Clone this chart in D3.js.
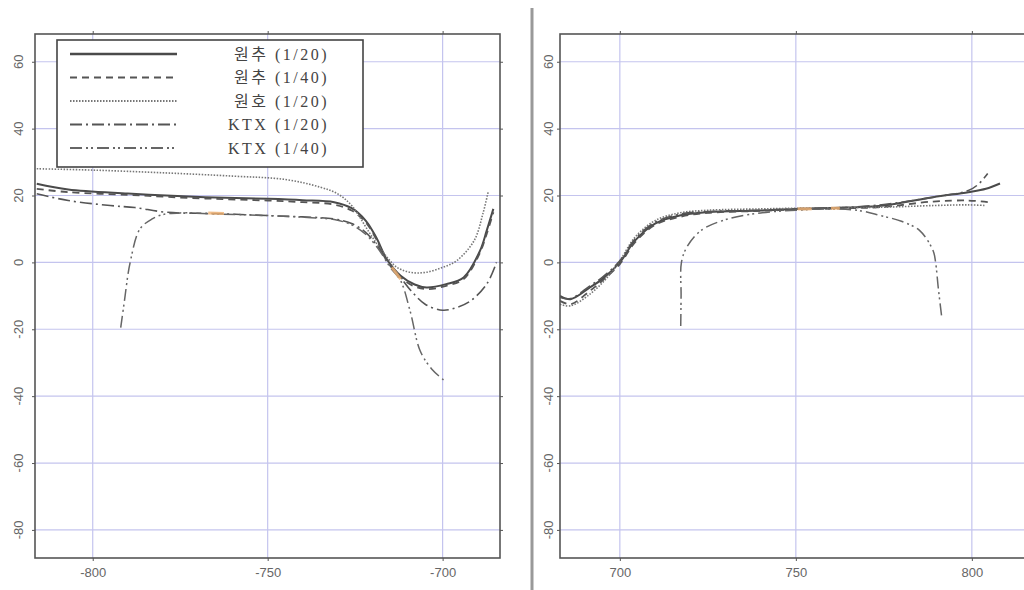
<!DOCTYPE html>
<html>
<head>
<meta charset="utf-8">
<script src="https://cdn.jsdelivr.net/npm/d3@7"></script>
<style>
  body { margin: 0; background: #fff; }
  svg { display: block; }
</style>
</head>
<body>
<script>
// series names + tick values
var names = ["원추 (1/20)", "원추 (1/40)", "원호 (1/20)", "KTX (1/20)", "KTX (1/40)"];
var yTicks = [-80, -60, -40, -20, 0, 20, 40, 60];
var leftXTicks = [-800, -750, -700];
var rightXTicks = [700, 750, 800];

// left panel (x, y)
var leftCone20 = [[-816,23.5],[-807,21.8],[-790,20.6],[-779,20],[-765,19.4],[-750,19],[-740,18.6],[-731,18],[-726,16.2],[-722,12.5],[-719,7.5],[-716,1],[-712,-4],[-708,-6.6],[-704.6,-7.5],[-699,-6.5],[-694,-4.5],[-689.3,3.5],[-687.4,9.5],[-685.5,16]];
var leftCone40 = [[-816,22],[-807,21],[-790,20.2],[-779,19.6],[-765,19],[-750,18.5],[-740,18],[-731,17.3],[-726,15.5],[-722,12],[-719,7],[-716,0.5],[-712,-4.5],[-708,-7.2],[-704,-8],[-699,-7],[-694,-5],[-689.5,2.5],[-687.4,8.5],[-685.5,15]];
var leftArc20 = [[-816,28],[-800,27.6],[-780,26.8],[-760,25.8],[-745,24.8],[-735,22.5],[-730,20.5],[-726,17],[-721,9],[-717,3],[-713,-1.5],[-709,-3],[-705,-3],[-700,-1.5],[-696,0.5],[-691,6.5],[-688.5,14.5],[-687,21]];
var leftKtx20 = [[-816,20.5],[-807,18.5],[-795,17],[-788,16.4],[-779,15],[-765,14.6],[-750,14],[-740,13.6],[-731,13],[-726,11.6],[-722,9],[-718,4],[-715,-0.5],[-712,-4.5],[-709,-8.5],[-705,-12.5],[-700,-14.3],[-696,-13.5],[-692,-11.5],[-687.4,-6.5],[-684.6,0]];
var leftKtx40 = [[-792,-19.5],[-791,-12],[-789.3,0],[-786.5,10],[-783,13],[-780,14.3],[-775,14.8],[-765,14.5],[-750,14],[-740,13.5],[-731,12.8],[-726,11.2],[-722,8.4],[-718,3.5],[-715,-1.5],[-712,-5.5],[-709.3,-14.5],[-706.4,-26.5],[-703,-32],[-699.3,-35.5]];
var leftMarks = [[[-767,14.8],[-762.5,14.6]], [[-714.5,-1.5],[-712,-5]]];

// right panel (x, y)
var rightCone20 = [[683,-10],[686,-11],[691.5,-7.5],[695,-5],[700,0],[704.3,6.5],[710,11.6],[717,14],[725,15],[740,15.5],[750,16],[765,16.4],[775,17],[789,19.5],[799,21],[804,22],[808,23.6]];
var rightCone40 = [[683,-11.5],[686,-12.5],[691.5,-8.5],[695,-5.5],[700,-0.5],[704.3,6],[710,11.2],[717,13.6],[725,14.8],[740,15.4],[750,15.8],[765,16.2],[775,16.6],[789,18.2],[799,18.5],[805,18]];
var rightArc20 = [[683,-12.5],[686,-13],[691.5,-9.5],[696,-5],[700,0.5],[704.3,7.5],[710,12.5],[717,14.8],[725,15.6],[740,16],[750,16.2],[765,16.4],[775,16.5],[789,17],[799,17.2],[804,17]];
var rightKtx20 = [[683,-10.5],[686,-10.8],[691.5,-7],[695,-4.5],[700,0.5],[704.3,7],[710,12],[717,14.4],[725,15.2],[740,15.6],[750,16],[765,16.5],[775,17.3],[789,19.5],[799,21.5],[802,23.5],[804.5,26.6]];
var rightKtx40 = [[717.3,-19],[717.4,-10],[717.5,0],[719,4.5],[723,9.5],[730.7,13],[740,14.8],[750,15.6],[760,16],[768,15.5],[774,14],[780,12.3],[785.2,9.5],[789,3.5],[789.7,0],[790.5,-8],[791.4,-16]];
var rightMarks = [[[750.5,16],[754.5,16]], [[760,16.2],[762.5,16.2]]];

var styles = [
  {dash: null, color: "#4a4a4a", w: 2},
  {dash: "7,5", color: "#555", w: 1.8},
  {dash: "1.5,1.5", color: "#777", w: 1.6},
  {dash: "12,4,2,4", color: "#555", w: 1.6},
  {dash: "12,4,2,3,2,4", color: "#666", w: 1.5}
];

var W = 1024, H = 590, plotTop = 34, plotBottom = 558;
var svg = d3.select("body").append("svg").attr("width", W).attr("height", H);

var y = d3.scaleLinear().domain([-88.4, 68.3]).range([plotBottom, plotTop]);

function panel(id, xDom, xRange, xTicks, series, marks, labelX) {
  var x = d3.scaleLinear().domain(xDom).range(xRange);
  var g = svg.append("g");
  var x0 = xRange[0], x1 = xRange[1];

  // grid
  g.selectAll(".gx").data(xTicks).join("line")
      .attr("x1", x).attr("x2", x).attr("y1", plotTop).attr("y2", plotBottom)
      .attr("stroke", "#c4c4ee").attr("stroke-width", 1.2);
  g.selectAll(".gy").data(yTicks).join("line")
      .attr("x1", x0).attr("x2", x1).attr("y1", y).attr("y2", y)
      .attr("stroke", "#c4c4ee").attr("stroke-width", 1.2);

  svg.append("clipPath").attr("id", id)
    .append("rect").attr("x", x0).attr("y", plotTop).attr("width", x1 - x0).attr("height", plotBottom - plotTop);

  var line = d3.line().x(function(d) { return x(d[0]); }).y(function(d) { return y(d[1]); })
      .curve(d3.curveCatmullRom);

  var cg = g.append("g").attr("clip-path", "url(#" + id + ")");
  series.forEach(function(s, i) {
    cg.append("path").datum(s)
      .attr("d", line)
      .attr("fill", "none")
      .attr("stroke", styles[i].color)
      .attr("stroke-width", styles[i].w)
      .attr("stroke-dasharray", styles[i].dash);
  });
  marks.forEach(function(m) {
    cg.append("path").datum(m).attr("d", line)
      .attr("fill", "none").attr("stroke", "#f0b070").attr("stroke-width", 3).attr("opacity", 0.8);
  });

  // frame + ticks
  g.append("rect").attr("x", x0).attr("y", plotTop).attr("width", x1 - x0).attr("height", plotBottom - plotTop)
      .attr("fill", "none").attr("stroke", "#555").attr("stroke-width", 1.6);

  var ax = [
    g.append("g").attr("transform", "translate(0," + plotBottom + ")")
      .call(d3.axisBottom(x).tickValues(xTicks).tickSize(3).tickPadding(7).tickFormat(function(d) { return String(d); })),
    g.append("g").attr("transform", "translate(0," + plotTop + ")")
      .call(d3.axisTop(x).tickValues(xTicks).tickSize(3).tickFormat("")),
    g.append("g").attr("transform", "translate(" + x0 + ",0)")
      .call(d3.axisLeft(y).tickValues(yTicks).tickSize(3).tickFormat("")),
    g.append("g").attr("transform", "translate(" + x1 + ",0)")
      .call(d3.axisRight(y).tickValues(yTicks).tickSize(3).tickFormat(""))
  ];
  ax.forEach(function(a) {
    a.select(".domain").remove();
    a.selectAll("line").attr("stroke", "#555");
    a.selectAll("text").attr("fill", "#666").style("font-family", "Liberation Sans, Arial, sans-serif").style("font-size", "13px");
  });

  // rotated y labels
  g.selectAll(".yl").data(yTicks).join("text")
      .attr("transform", function(d) { return "translate(" + labelX + "," + y(d) + ") rotate(-90)"; })
      .attr("text-anchor", "middle")
      .attr("dominant-baseline", "central")
      .attr("fill", "#666")
      .style("font-family", "Liberation Sans, Arial, sans-serif")
      .style("font-size", "13px")
      .text(function(d) { return String(d); });
}

panel("clipL", [-816.5, -683.6], [35, 500], leftXTicks,
      [leftCone20, leftCone40, leftArc20, leftKtx20, leftKtx40], leftMarks, 18);
panel("clipR", [683, 815.1], [560, 1025], rightXTicks,
      [rightCone20, rightCone40, rightArc20, rightKtx20, rightKtx40], rightMarks, 548);

// divider
svg.append("line").attr("x1", 532).attr("x2", 532).attr("y1", 8).attr("y2", 590)
    .attr("stroke", "#999").attr("stroke-width", 3);

// legend
var lg = svg.append("g");
lg.append("rect").attr("x", 57).attr("y", 40).attr("width", 306).attr("height", 127)
    .attr("fill", "#fff").attr("stroke", "#444").attr("stroke-width", 1.6);
var ly = d3.scalePoint().domain(names).range([54, 148]);
names.forEach(function(n, i) {
  lg.append("line").attr("x1", 70).attr("x2", 177).attr("y1", ly(n)).attr("y2", ly(n))
    .attr("stroke", styles[i].color).attr("stroke-width", styles[i].w + 0.4)
    .attr("stroke-dasharray", styles[i].dash);
  lg.append("text").attr("x", 329).attr("y", ly(n))
    .attr("text-anchor", "end").attr("dominant-baseline", "central")
    .attr("fill", "#444")
    .style("font-family", "Liberation Serif, Noto Sans CJK KR, serif")
    .style("font-size", "16px")
    .style("letter-spacing", "2.5px")
    .text(n);
});
</script>
</body>
</html>
